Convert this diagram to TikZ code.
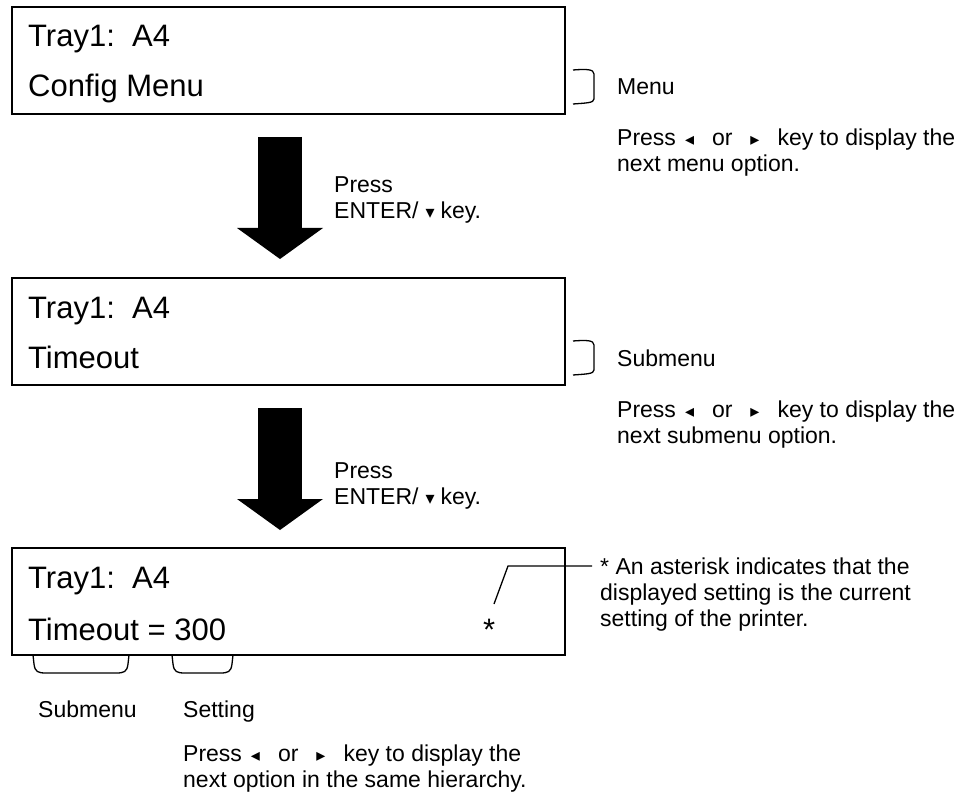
\documentclass[tikz,border=0pt]{standalone}
\usepackage{fontspec}
\setmainfont{Liberation Sans}
\newfontfamily\symfont{DejaVu Sans}
\usetikzlibrary{arrows.meta}
\newcommand\ltri{{\symfont\fontsize{18}{18}\selectfont ◂}}
\newcommand\rtri{{\symfont\fontsize{18}{18}\selectfont ▸}}
\newcommand\dtri{{\symfont\fontsize{18}{18}\selectfont ▾}}
\newcommand\presskeys{Press\hspace{9pt}\ltri\hspace{18pt}or\hspace{18pt}\rtri\hspace{18pt}key}
\begin{document}
\begin{tikzpicture}[x=1pt,y=-1pt,
  lcd/.style={draw,line width=2.6pt,minimum width=553pt,minimum height=107pt,anchor=north west,inner sep=0pt,outer sep=0pt},
  big/.style={font=\fontsize{31}{36}\selectfont,anchor=base west,inner sep=0pt},
  small/.style={font=\fontsize{23}{26}\selectfont,anchor=base west,inner sep=0pt,align=left},
  bigarrow/.style={line width=44pt,-{Triangle[width=86pt,length=31pt,line width=0pt]}},
  brk/.style={line width=1.3pt}]
\path[use as bounding box] (0,0) rectangle (968,802);

% boxes
\node[lcd] (b1) at (12,7) {};
\node[lcd] (b2) at (12,278) {};
\node[lcd] (b3) at (12,548) {};

\node[big] (b1l1) at (28,47) {Tray1:\ \ A4};
\node[big] (b1l2) at (28,97) {Config Menu};
\node[big] (b2l1) at (28,318) {Tray1:\ \ A4};
\node[big] (b2l2) at (28,368) {Timeout};
\node[big] (b3l1) at (28,588) {Tray1:\ \ A4};
\node[big] (b3l2) at (28,640) {Timeout = 300};
\node[big] (ast) at (483,640) {*};

% big arrows
\coordinate (a1s) at (280,137);
\coordinate (a1e) at (280,259);
\coordinate (a2s) at (280,408);
\coordinate (a2e) at (280,530);
\draw[bigarrow] (a1s) -- (a1e);
\draw[bigarrow] (a2s) -- (a2e);

% (multi-line nodes: anchor is the baseline of the last line)
\node[small] (p1) at (334,219) {Press\\ENTER/\hspace{7pt}\dtri\hspace{6pt}key.};
\node[small] (p2) at (334,504) {Press\\ENTER/\hspace{7pt}\dtri\hspace{6pt}key.};

% right brackets
\draw[brk] (573,70) .. controls (586,69) and (594,69) .. (594,74) -- (594,99) .. controls (594,103) and (586,103) .. (573,104);
\draw[brk] (573,341) .. controls (586,340) and (594,340) .. (594,345) -- (594,370) .. controls (594,374) and (586,374) .. (573,375);

\node[small] (menu) at (617,95) {Menu};
\node[small] (menuh) at (617,172) {\presskeys{} to display the\\next menu option.};
\node[small] (sub) at (617,366) {Submenu};
\node[small] (subh) at (617,443) {\presskeys{} to display the\\next submenu option.};

% asterisk leader
\coordinate (l1) at (494,604);
\coordinate (l2) at (508,566);
\coordinate (l3) at (592,566);
\draw[brk] (l1) -- (l2) -- (l3);
\node[small] (asth) at (600,626) {* An asterisk indicates that the\\displayed setting is the current\\setting of the printer.};

% bottom brackets
\draw[brk] (33,655) -- (34,664) .. controls (35,672) and (38,673) .. (46,673) -- (116,673) .. controls (124,673) and (127,672) .. (128,664) -- (129,655);
\draw[brk] (172,655) -- (173,664) .. controls (174,672) and (177,673) .. (185,673) -- (220,673) .. controls (228,673) and (231,672) .. (232,664) -- (233,655);

\node[small] (subb) at (38,717) {Submenu};
\node[small] (set) at (183,717) {Setting};
\node[small] (seth) at (183,787) {\presskeys{} to display the\\next option in the same hierarchy.};
\end{tikzpicture}
\end{document}
